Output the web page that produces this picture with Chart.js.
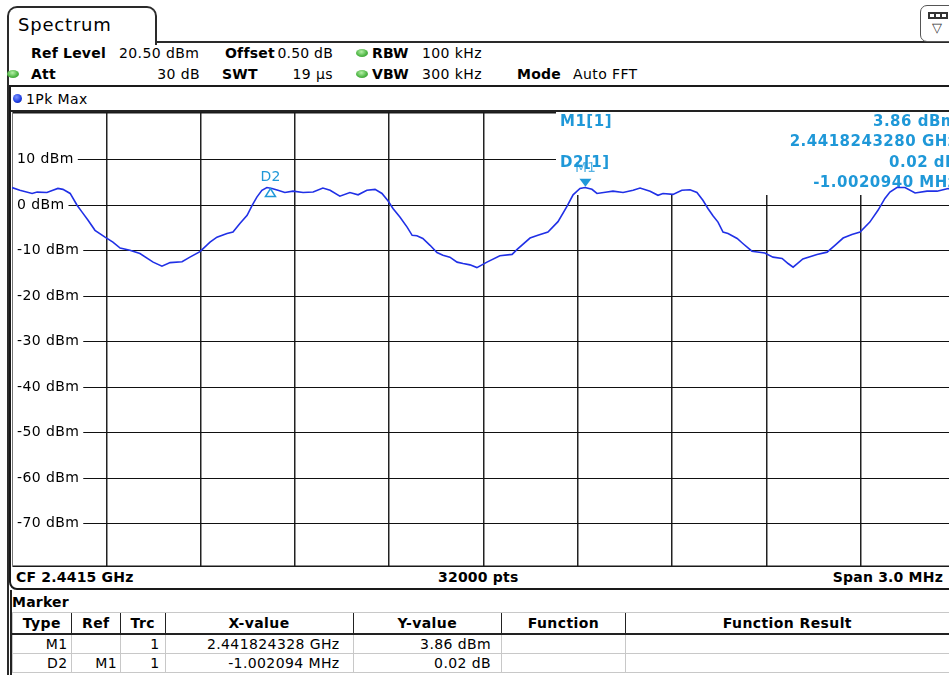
<!DOCTYPE html>
<html>
<head>
<meta charset="utf-8">
<title>Spectrum</title>
<script src="https://cdn.jsdelivr.net/npm/chart.js@4.4.0/dist/chart.umd.min.js"></script>
<style>
html, body { margin: 0; padding: 0; width: 949px; height: 675px; overflow: hidden; background: #fff; }
body { position: relative; font-family: "DejaVu Sans", Verdana, sans-serif; font-size: 14px; letter-spacing: 0.4px; color: #000; }
.a { position: absolute; white-space: nowrap; line-height: 18px; }
.b { font-weight: bold; letter-spacing: 0.2px; }
.dot { position: absolute; width: 12px; height: 8px; border-radius: 50%;
       background: radial-gradient(ellipse at 45% 35%, #b6f0a8 0%, #52b848 55%, #2f8a2c 100%); }
.line { position: absolute; background: #222; }
#plotBox { position: absolute; left: 12px; top: 112px; width: 950px; height: 455px; }
table.mk { position: absolute; left: 12px; top: 612px; border-collapse: collapse; table-layout: fixed; font-size: 14px; }
table.mk th { height: 20px; padding: 0; font-weight: bold; text-align: center; border-top: 1px solid #c8c8c8;
              border-left: 1.5px solid #222; border-bottom: 2px solid #222; }
table.mk th:first-child { border-left: 1px solid #c8c8c8; }
table.mk td { height: 18px; padding: 0; text-align: right; border-left: 1px solid #c8c8c8; border-bottom: 1px solid #c8c8c8; }
</style>
</head>
<body>

<!-- tab and frame -->
<div class="a" style="left:7px;top:6px;width:146px;height:37px;border:2px solid #2a2a2a;border-bottom:none;border-radius:10px 10px 0 0;"></div>
<div class="a" style="left:18px;top:15px;font-size:18px;letter-spacing:0.8px;line-height:20px;">Spectrum</div>
<div class="line" style="left:155px;top:41px;width:800px;height:2px;background:#2a2a2a;"></div>
<div class="line" style="left:7px;top:42px;width:2px;height:633px;background:#2a2a2a;"></div>
<div class="a" style="left:920px;top:5px;width:36px;height:35px;border:1.5px solid #555;border-radius:7px;"></div>
<div class="a" style="left:928px;top:12px;width:20px;height:7px;background:#333;"></div>
<div class="a" style="left:930px;top:14px;width:4px;height:3px;background:#fff;"></div>
<div class="a" style="left:936px;top:14px;width:4px;height:3px;background:#fff;"></div>
<div class="a" style="left:942px;top:14px;width:4px;height:3px;background:#fff;"></div>
<div class="a" style="left:932px;top:19px;font-size:13px;color:#333;">&#9661;</div>

<!-- settings rows -->
<div class="a b" style="left:31px;top:44px;">Ref Level</div>
<div class="a" style="left:119px;top:44px;">20.50 dBm</div>
<div class="a b" style="left:225px;top:44px;">Offset</div>
<div class="a" style="right:616px;top:44px;letter-spacing:0.2px;">0.50 dB</div>
<span class="dot" style="left:356px;top:49px;"></span>
<div class="a b" style="left:372px;top:44px;">RBW</div>
<div class="a" style="left:422px;top:44px;">100 kHz</div>

<span class="dot" style="left:7px;top:70px;"></span>
<div class="a b" style="left:31px;top:65px;">Att</div>
<div class="a" style="right:749px;top:65px;">30 dB</div>
<div class="a b" style="left:222px;top:65px;">SWT</div>
<div class="a" style="right:616px;top:65px;">19 µs</div>
<span class="dot" style="left:356px;top:70px;"></span>
<div class="a b" style="left:372px;top:65px;">VBW</div>
<div class="a" style="left:422px;top:65px;">300 kHz</div>
<div class="a b" style="left:517px;top:65px;">Mode</div>
<div class="a" style="left:573px;top:65px;">Auto FFT</div>

<!-- trace window -->
<div class="a" style="left:9px;top:85px;width:960px;height:501px;border:2px solid #1a1a1a;border-radius:0 0 0 8px;"></div>
<span class="a" style="left:13px;top:94px;width:9px;height:9px;border-radius:50%;background:radial-gradient(circle at 40% 35%, #7d94ff 0%, #1b3be0 60%, #0d1f8a 100%);"></span>
<div class="a" style="left:26px;top:90px;">1Pk Max</div>
<div class="line" style="left:11px;top:110px;width:950px;height:2px;"></div>

<div id="plotBox"><canvas id="specChart" width="950" height="455"></canvas></div>

<div class="a b" style="left:16px;top:568px;">CF 2.4415 GHz</div>
<div class="a b" style="left:438px;top:568px;">32000 pts</div>
<div class="a b" style="right:6px;top:568px;">Span 3.0 MHz</div>

<!-- marker table -->
<div class="line" style="left:10px;top:590px;width:1.5px;height:85px;"></div>
<div class="a b" style="left:12px;top:593px;">Marker</div>
<table class="mk">
  <colgroup><col style="width:59px"><col style="width:50px"><col style="width:45px"><col style="width:190px"><col style="width:151px"><col style="width:125px"><col style="width:330px"></colgroup>
  <tr><th>Type</th><th>Ref</th><th>Trc</th><th>X-value</th><th>Y-value</th><th>Function</th><th>Function Result</th></tr>
  <tr><td style="padding-right:3px">M1</td><td style="padding-right:3px"></td><td style="padding-right:5px">1</td><td style="padding-right:13px">2.441824328 GHz</td><td style="padding-right:10px">3.86 dBm</td><td></td><td></td></tr>
  <tr><td style="padding-right:3px">D2</td><td style="padding-right:3px">M1</td><td style="padding-right:5px">1</td><td style="padding-right:13px">-1.002094 MHz</td><td style="padding-right:10px">0.02 dB</td><td></td><td></td></tr>
</table>

<script>
// Trace 1 (1Pk Max), frequency in MHz, level in dBm
const freqMHz = [
  2440.000, 2440.025, 2440.064, 2440.080, 2440.111, 2440.130, 2440.146, 2440.162, 2440.185, 2440.207,
  2440.223, 2440.242, 2440.264, 2440.296, 2440.321, 2440.344, 2440.375, 2440.407, 2440.449, 2440.477,
  2440.503, 2440.541, 2440.566, 2440.598, 2440.630, 2440.652, 2440.684, 2440.703, 2440.725, 2440.748,
  2440.764, 2440.779, 2440.795, 2440.811, 2440.827, 2440.846, 2440.868, 2440.894, 2440.926, 2440.958,
  2440.989, 2441.012, 2441.043, 2441.075, 2441.101, 2441.129, 2441.155, 2441.177, 2441.196, 2441.212,
  2441.234, 2441.257, 2441.273, 2441.288, 2441.307, 2441.330, 2441.352, 2441.371, 2441.393, 2441.416,
  2441.435, 2441.457, 2441.479, 2441.511, 2441.552, 2441.591, 2441.607, 2441.648, 2441.673, 2441.705,
  2441.737, 2441.766, 2441.785, 2441.807, 2441.823, 2441.845, 2441.861, 2441.893, 2441.912, 2441.944,
  2441.976, 2441.998, 2442.030, 2442.055, 2442.071, 2442.103, 2442.131, 2442.157, 2442.179, 2442.198,
  2442.214, 2442.230, 2442.246, 2442.262, 2442.278, 2442.307, 2442.325, 2442.354, 2442.395, 2442.421,
  2442.450, 2442.469, 2442.485, 2442.516, 2442.561, 2442.593, 2442.618, 2442.644, 2442.672, 2442.698,
  2442.729, 2442.755, 2442.777, 2442.793, 2442.815, 2442.841, 2442.873, 2442.911, 2442.943, 2442.978,
  2443.000
];
const levelDbm = [
  3.9, 3.3, 2.6, 2.9, 2.8, 3.3, 3.7, 3.5, 2.6, 0.0,
  -1.5, -3.3, -5.5, -7.0, -8.1, -9.4, -9.9, -10.6, -12.5, -13.4,
  -12.6, -12.4, -11.4, -10.2, -8.1, -7.0, -6.2, -5.9, -4.0, -2.2,
  0.0, 1.8, 3.3, 3.9, 3.7, 3.3, 2.8, 3.1, 2.8, 2.9,
  3.8, 3.3, 2.0, 2.8, 2.3, 3.3, 3.5, 2.6, 1.0, -0.7,
  -2.6, -4.8, -6.6, -6.7, -7.3, -8.8, -10.4, -11.0, -11.4, -12.5,
  -12.8, -13.1, -13.7, -12.5, -11.1, -10.8, -9.7, -7.2, -6.6, -5.9,
  -3.6, -0.2, 2.3, 3.7, 3.9, 3.5, 2.6, 2.9, 3.1, 2.8,
  3.3, 3.8, 3.1, 2.2, 2.6, 2.4, 3.3, 3.4, 2.8, 1.1,
  -0.7, -2.3, -3.7, -5.9, -6.2, -7.3, -8.4, -10.1, -10.5, -11.4,
  -11.7, -12.8, -13.6, -11.8, -10.8, -10.3, -8.8, -7.2, -6.4, -5.9,
  -3.7, -1.1, 1.5, 2.9, 3.9, 3.9, 2.7, 3.1, 3.1, 3.7,
  3.5
];

// Axis setup: 3 MHz span around 2.4415 GHz, ref level 20.5 dBm, 10 dB/div
const xStartMHz = 2440.0;
const xStopMHz = 2443.0;
const xGridMHz = [2440.3, 2440.6, 2440.9, 2441.2, 2441.5, 2441.8, 2442.1, 2442.4, 2442.7];
const yTopDbm = 20.5;
const yBottomDbm = -79.5;
const yGridDbm = [10, 0, -10, -20, -30, -40, -50, -60, -70];

// Markers
const markerNames = ['M1', 'D2'];
const markerFreqMHz = [2441.824328, 2440.822234];
const markerLevelDbm = [3.86, 3.88];
const markerInfoLeft = ['M1[1]', '', 'D2[1]', ''];
const markerInfoRight = ['3.86 dBm', '2.4418243280 GHz', '0.02 dB', '-1.0020940 MHz'];

const markerBlue = '#1f98d8';
const traceBlue = '#2030e6';

// Draws level labels, the marker readout box, the markers and the plot frame
const analyzerPlugin = {
    id: 'analyzer',
    beforeDatasetsDraw(chart) {
        const { ctx, chartArea: a, scales } = chart;
        ctx.save();
        // frame
        ctx.strokeStyle = '#1a1a1a';
        ctx.lineWidth = 1.5;
        ctx.beginPath();
        ctx.moveTo(a.left, a.top + 0.75);
        ctx.lineTo(a.right, a.top + 0.75);
        ctx.moveTo(a.left, a.bottom - 0.75);
        ctx.lineTo(a.right, a.bottom - 0.75);
        ctx.stroke();
        ctx.strokeStyle = '#777';
        ctx.lineWidth = 1;
        ctx.beginPath();
        ctx.moveTo(a.left + 0.5, a.top);
        ctx.lineTo(a.left + 0.5, a.bottom);
        ctx.stroke();

        // level labels sit inside the grid on a white patch
        ctx.font = '14px "DejaVu Sans"';
        ctx.textAlign = 'left';
        ctx.textBaseline = 'middle';
        yGridDbm.forEach(v => {
            const y = scales.y.getPixelForValue(v);
            const txt = v + ' dBm';
            const w = ctx.measureText(txt).width;
            ctx.fillStyle = '#fff';
            ctx.fillRect(a.left + 1, y - 8, w + 8, 16);
            ctx.fillStyle = '#000';
            ctx.fillText(txt, a.left + 5, y);
        });

        // marker readout area
        const boxLeft = a.left + 544;
        ctx.fillStyle = '#fff';
        ctx.fillRect(boxLeft, a.top, a.right - boxLeft + 10, 83);
        ctx.fillStyle = markerBlue;
        ctx.font = 'bold 15px "DejaVu Sans"';
        if ('letterSpacing' in ctx) ctx.letterSpacing = '0.5px';
        const rows = [10, 30, 51, 71];
        rows.forEach((y, i) => {
            ctx.textAlign = 'left';
            if (markerInfoLeft[i]) ctx.fillText(markerInfoLeft[i], a.left + 548, a.top + y);
            ctx.textAlign = 'right';
            ctx.fillText(markerInfoRight[i], a.left + 945, a.top + y);
        });
        ctx.restore();
    },
    afterDatasetsDraw(chart) {
        const { ctx, scales } = chart;
        ctx.save();
        if ('letterSpacing' in ctx) ctx.letterSpacing = '0px';
        ctx.textAlign = 'center';
        ctx.textBaseline = 'middle';
        markerNames.forEach((name, i) => {
            const x = scales.x.getPixelForValue(markerFreqMHz[i]);
            const y = scales.y.getPixelForValue(markerLevelDbm[i]);
            if (name.startsWith('M')) {
                ctx.fillStyle = markerBlue;
                ctx.beginPath();
                ctx.moveTo(x - 6, y - 9);
                ctx.lineTo(x + 6, y - 9);
                ctx.lineTo(x, y - 1);
                ctx.closePath();
                ctx.fill();
                ctx.fillStyle = 'rgba(31,152,216,0.75)';
                ctx.font = '14px "DejaVu Sans"';
                ctx.fillText(name, x, y - 19);
            } else {
                ctx.strokeStyle = markerBlue;
                ctx.lineWidth = 1.5;
                ctx.beginPath();
                ctx.moveTo(x, y + 1);
                ctx.lineTo(x + 5, y + 9);
                ctx.lineTo(x - 5, y + 9);
                ctx.closePath();
                ctx.stroke();
                ctx.fillStyle = markerBlue;
                ctx.font = '14px "DejaVu Sans"';
                ctx.fillText(name, x, y - 10);
            }
        });
        ctx.restore();
    }
};

const ctx = document.getElementById('specChart');
new Chart(ctx, {
    type: 'line',
    data: {
        datasets: [{
            label: 'Trace 1',
            data: freqMHz.map((f, i) => ({ x: f, y: levelDbm[i] })),
            borderColor: traceBlue,
            borderWidth: 1.6,
            pointRadius: 0,
            tension: 0,
            fill: false
        }]
    },
    options: {
        responsive: false,
        animation: false,
        events: [],
        layout: { padding: { left: 0, top: 0, right: 7, bottom: 0 } },
        plugins: {
            legend: { display: false },
            tooltip: { enabled: false }
        },
        scales: {
            x: {
                type: 'linear',
                min: xStartMHz,
                max: xStopMHz,
                afterBuildTicks: scale => { scale.ticks = xGridMHz.map(v => ({ value: v })); },
                ticks: { display: false },
                grid: { color: '#222', lineWidth: 1.5, drawTicks: false },
                border: { display: false }
            },
            y: {
                min: yBottomDbm,
                max: yTopDbm,
                afterBuildTicks: scale => { scale.ticks = yGridDbm.map(v => ({ value: v })); },
                ticks: { display: false },
                grid: { color: '#111', lineWidth: 1, drawTicks: false },
                border: { display: false }
            }
        }
    },
    plugins: [analyzerPlugin]
});
</script>
</body>
</html>
